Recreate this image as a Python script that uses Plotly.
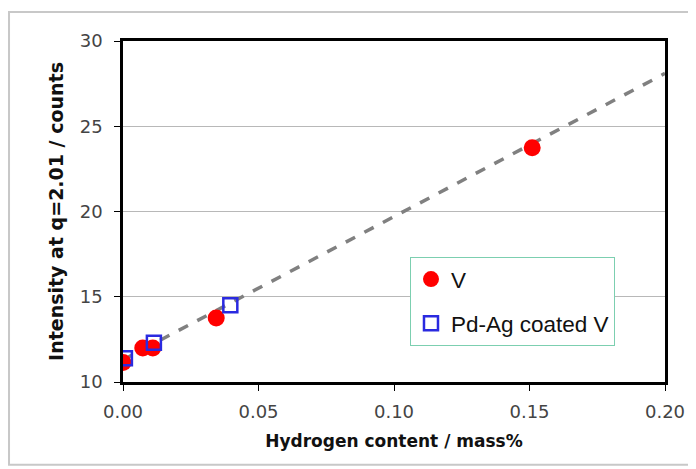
import plotly.graph_objects as go

# Data
v_x = [0.000, 0.0073, 0.011, 0.0344, 0.151]
v_y = [11.15, 12.0, 12.0, 13.76, 23.74]
pd_x = [0.0007, 0.0114, 0.0396]
pd_y = [11.4, 12.3, 14.5]
trend_x = [0.0, 0.20]
trend_y = [11.3, 28.1]
x_ticks = [0.00, 0.05, 0.10, 0.15, 0.20]
y_ticks = [10, 15, 20, 25, 30]

fig = go.Figure()
fig.add_trace(go.Scatter(x=trend_x, y=trend_y, mode="lines",
                         line=dict(color="#808080", width=3.5, dash="dash"),
                         showlegend=False, hoverinfo="skip"))
fig.add_trace(go.Scatter(x=v_x, y=v_y, mode="markers", name="V", legendgroup="a",
                         marker=dict(symbol="circle", size=17, color="#ff0000",
                                     line=dict(width=0))))
fig.add_trace(go.Scatter(x=pd_x, y=pd_y, mode="markers", name="Pd-Ag coated V",
                         legendgroup="b",
                         marker=dict(symbol="square-open", size=14, color="#2a2ae0",
                                     line=dict(width=2.5, color="#2a2ae0"))))

tick_font = dict(family="DejaVu Sans", size=18, color="#444")
fig.update_layout(
    width=696, height=469,
    margin=dict(l=115, r=39, t=33, b=95),
    paper_bgcolor="white", plot_bgcolor="white",
    font=dict(family="DejaVu Sans", size=14, color="#222"),
    legend=dict(x=0.5295, y=0.3666, xanchor="left", yanchor="top",
                bgcolor="white", bordercolor="#7ccfb0", borderwidth=1,
                font=dict(family="Liberation Sans, Arial", size=22.5, color="#111"),
                itemwidth=30, tracegroupgap=12,
                entrywidthmode="pixels", entrywidth=205),
    xaxis=dict(range=[0, 0.20], tickvals=x_ticks,
               ticktext=[f"{t:.2f}" for t in x_ticks],
               showline=True, linecolor="black", linewidth=2.5, mirror=True,
               ticks="outside", ticklen=6, tickcolor="black", tickwidth=1,
               ticklabelstandoff=6,
               showgrid=False, zeroline=False, tickfont=tick_font,
               title=dict(text="<b>Hydrogen content / mass%</b>",
                          font=dict(family="DejaVu Sans", size=17, color="#111"),
                          standoff=14)),
    yaxis=dict(range=[10, 30], tickvals=y_ticks,
               showline=True, linecolor="black", linewidth=2.5, mirror=True,
               ticks="outside", ticklen=6, tickcolor="black", tickwidth=1,
               ticklabelstandoff=8,
               showgrid=True, gridcolor="#b8b8b8", gridwidth=1, zeroline=False,
               tickfont=tick_font,
               title=dict(text="<b>Intensity at q=2.01 / counts</b>",
                          font=dict(family="DejaVu Sans", size=19, color="#111"),
                          standoff=12)),
    shapes=[dict(type="rect", xref="paper", yref="paper",
                 x0=-0.2103, x1=1.4, y0=-0.243, y1=1.085,
                 line=dict(color="#c8c8c8", width=2), fillcolor="rgba(0,0,0,0)",
                 layer="below")],
)

fig.write_html("out.html")
